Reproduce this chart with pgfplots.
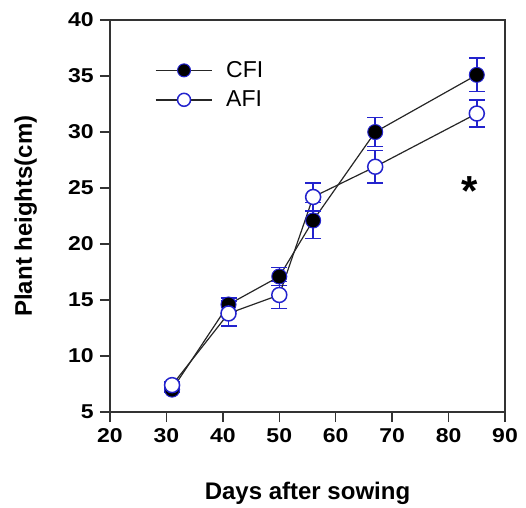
\documentclass[border=0pt]{standalone}
\usepackage{pgfplots}
\pgfplotsset{compat=1.18}
\usepackage{fontspec}
\setmainfont{Liberation Sans}
\definecolor{eb}{RGB}{35,35,205}
\begin{document}
\begin{tikzpicture}
\path[use as bounding box] (-110pt,-95pt) rectangle (416pt,412pt);
\begin{axis}[
  at={(0,0)}, anchor=south west,
  width=395pt, height=392pt, scale only axis,
  xmin=20, xmax=90, ymin=5, ymax=40,
  xtick={20,30,...,90}, ytick={5,10,...,40},
  tick align=outside, xtick pos=left, ytick pos=left,
  major tick length=10pt,
  axis line style={line width=1.3pt, black!80},
  tick style={line width=1.3pt, black!80},
  /pgf/number format/assume math mode=true,
  ticklabel style={font=\bfseries\fontsize{20}{20}\selectfont, xscale=1.15},
  xticklabel style={yshift=-3pt},
  yticklabel style={xshift=-2pt},
  xlabel={Days after sowing},
  ylabel={Plant heights(cm)},
  label style={font=\bfseries\fontsize{24}{24}\selectfont},
  xlabel style={at={(axis description cs:0.5,0)}, anchor=base, yshift=-87pt},
  ylabel style={at={(axis description cs:0,0.5)}, anchor=base, yshift=78pt},
  legend style={draw=none, fill=none, at={(rel axis cs:0.113,0.897)}, anchor=north west,
    font=\fontsize{23}{23}\selectfont, row sep=10pt, inner sep=0pt,
    nodes={inner sep=1pt},
    /tikz/every odd column/.append style={column sep=12pt}},
  legend cell align=left,
  legend image code/.code={\draw[line width=1.5pt, mark size=6.5pt, mark repeat=2,mark phase=2] plot coordinates {(0cm,0cm) (1cm,0cm) (2cm,0cm)};},
  clip=false,
]
\addplot[black!85, line width=1.2pt, mark=*, mark size=7.5pt,
  mark options={fill=black, draw=eb, line width=1pt},
  error bars/.cd, y dir=both, y explicit,
  error bar style={eb, line width=1.5pt},
  error mark options={eb, line width=1.5pt, mark size=8pt, rotate=90}]
  table[x=x, y=y, y error=e] {
x y e
31 7.0 0.2
41 14.6 0.6
50 17.1 0.8
56 22.1 1.6
67 30.0 1.3
85 35.1 1.5
};
\addlegendentry{CFI}
\addplot[black!85, line width=1.2pt, mark=*, mark size=7.5pt,
  mark options={fill=white, draw=eb, line width=1.5pt},
  error bars/.cd, y dir=both, y explicit,
  error bar style={eb, line width=1.5pt},
  error mark options={eb, line width=1.5pt, mark size=8pt, rotate=90}]
  table[x=x, y=y, y error=e] {
x y e
31 7.4 0.3
41 13.8 1.1
50 15.45 1.2
56 24.2 1.25
67 26.9 1.45
85 31.65 1.2
};
\addlegendentry{AFI}
\node[font=\bfseries\fontsize{42}{42}\selectfont, anchor=center] at (axis cs:83.8,24.7) {*};
\end{axis}
\end{tikzpicture}
\end{document}
